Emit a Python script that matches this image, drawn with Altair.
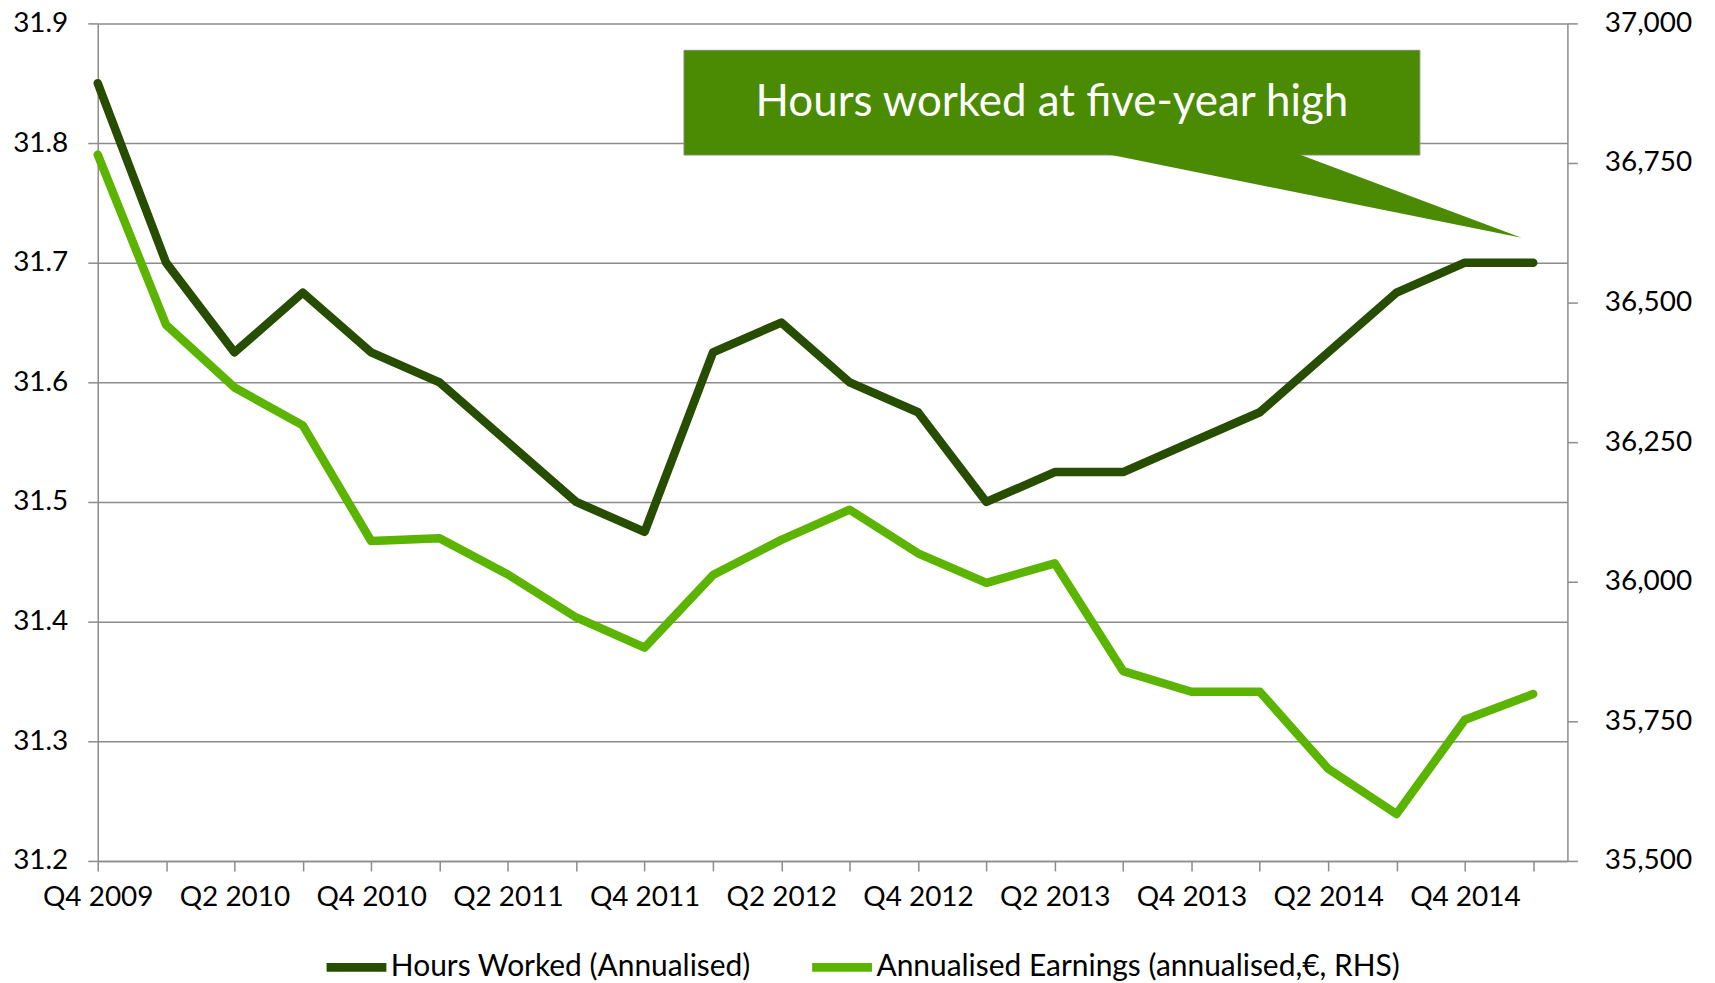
import json
import altair as alt
import pandas as pd

quarters = ["Q4 2009", "Q1 2010", "Q2 2010", "Q3 2010", "Q4 2010", "Q1 2011", "Q2 2011",
            "Q3 2011", "Q4 2011", "Q1 2012", "Q2 2012", "Q3 2012", "Q4 2012", "Q1 2013",
            "Q2 2013", "Q3 2013", "Q4 2013", "Q1 2014", "Q2 2014", "Q3 2014", "Q4 2014", "Q1 2015"]
hours = [31.85, 31.70, 31.625, 31.675, 31.625, 31.60, 31.55, 31.50, 31.475, 31.625, 31.65,
         31.60, 31.575, 31.50, 31.525, 31.525, 31.55, 31.575, 31.625, 31.675, 31.70, 31.70]
earnings = [36765, 36460, 36348, 36280, 36073, 36078, 36013, 35936, 35882, 36012, 36075,
            36129, 36051, 35998, 36033, 35840, 35803, 35803, 35665, 35584, 35753, 35799]
series_names = ["Hours Worked (Annualised)", "Annualised Earnings (annualised,€, RHS)"]
series_colors = ["#264d00", "#5ab400"]
left_ticks = [31.2, 31.3, 31.4, 31.5, 31.6, 31.7, 31.8, 31.9]
right_ticks = [35500, 35750, 36000, 36250, 36500, 36750, 37000]
callout_text = "Hours worked at five-year high"

FONT = "Lato"
GRAY = "#8c8c8c"
W, H = 1474, 840

idx = list(range(len(quarters)))
long = pd.concat([
    pd.DataFrame({"idx": idx, "series": series_names[0], "value": hours}),
    pd.DataFrame({"idx": idx, "series": series_names[1], "value": earnings}),
], ignore_index=True)

shown = [q if i % 2 == 0 else "" for i, q in enumerate(quarters)]
label_expr = json.dumps(shown) + "[datum.value]"

x_enc = alt.X("idx:Q",
              scale=alt.Scale(domain=[0, len(quarters) - 0.5], nice=False, zero=False),
              axis=alt.Axis(title=None, values=idx, labelExpr=label_expr, grid=False,
                            labelPadding=13, labelAlign="center"))

color_enc = alt.Color("series:N",
                      scale=alt.Scale(domain=series_names, range=series_colors),
                      legend=alt.Legend(title=None, orient="none", direction="horizontal",
                                        legendX=225, legendY=912, symbolType="stroke",
                                        symbolSize=3600, symbolStrokeWidth=9,
                                        labelFont=FONT, labelFontSize=30, labelColor="#000",
                                        labelOffset=0, columnPadding=43, labelLimit=800))

line_kw = dict(strokeWidth=8.5, strokeCap="round", strokeJoin="round")

hours_line = alt.Chart(long).transform_filter(
    alt.datum.series == series_names[0]
).mark_line(**line_kw).encode(
    x=x_enc,
    y=alt.Y("value:Q", scale=alt.Scale(domain=[31.2, 31.9], nice=False, zero=False),
            axis=alt.Axis(title=None, values=left_ticks, format=".1f", grid=True,
                          orient="left", labelPadding=20)),
    color=color_enc,
)

earn_line = alt.Chart(long).transform_filter(
    alt.datum.series == series_names[1]
).mark_line(**line_kw).encode(
    x=x_enc,
    y=alt.Y("value:Q", scale=alt.Scale(domain=[35500, 37000], nice=False, zero=False),
            axis=alt.Axis(title=None, values=right_ticks, format=",.0f", grid=False,
                          orient="right", labelPadding=27)),
    color=color_enc,
)

ann = pd.DataFrame({"text": [callout_text]})
BOX = "#4a8b03"

box = alt.Chart(ann).mark_rect(color=BOX, stroke="#7f8f70", strokeWidth=1).encode(
    x=alt.value(588), x2=alt.value(1326), y=alt.value(27), y2=alt.value(132))

tail = alt.Chart(ann).mark_point(
    shape="M 1012 131 L 1204 131 L 1428 215 Z", size=4, filled=True,
    color=BOX, opacity=1, strokeWidth=0
).encode(x=alt.value(0), y=alt.value(0))

label = alt.Chart(ann).mark_text(
    font=FONT, fontSize=44, color="white", align="center", baseline="middle"
).encode(x=alt.value(957), y=alt.value(80), text="text:N")

chart = alt.layer(hours_line, earn_line, box, tail, label).resolve_scale(
    y="independent"
).properties(
    width=W, height=H,
    autosize=alt.AutoSizeParams(type="none"),
    padding={"left": 90, "top": 14, "right": 140, "bottom": 125},
).configure_view(strokeWidth=0).configure_axis(
    domainColor=GRAY, domainWidth=1.5, tickColor=GRAY, tickWidth=1.5, tickSize=10,
    gridColor=GRAY, gridWidth=1.5, labelFont=FONT, labelFontSize=28, labelColor="#000",
)

chart.save("out.html", embed_options={"renderer": "svg", "actions": False})
